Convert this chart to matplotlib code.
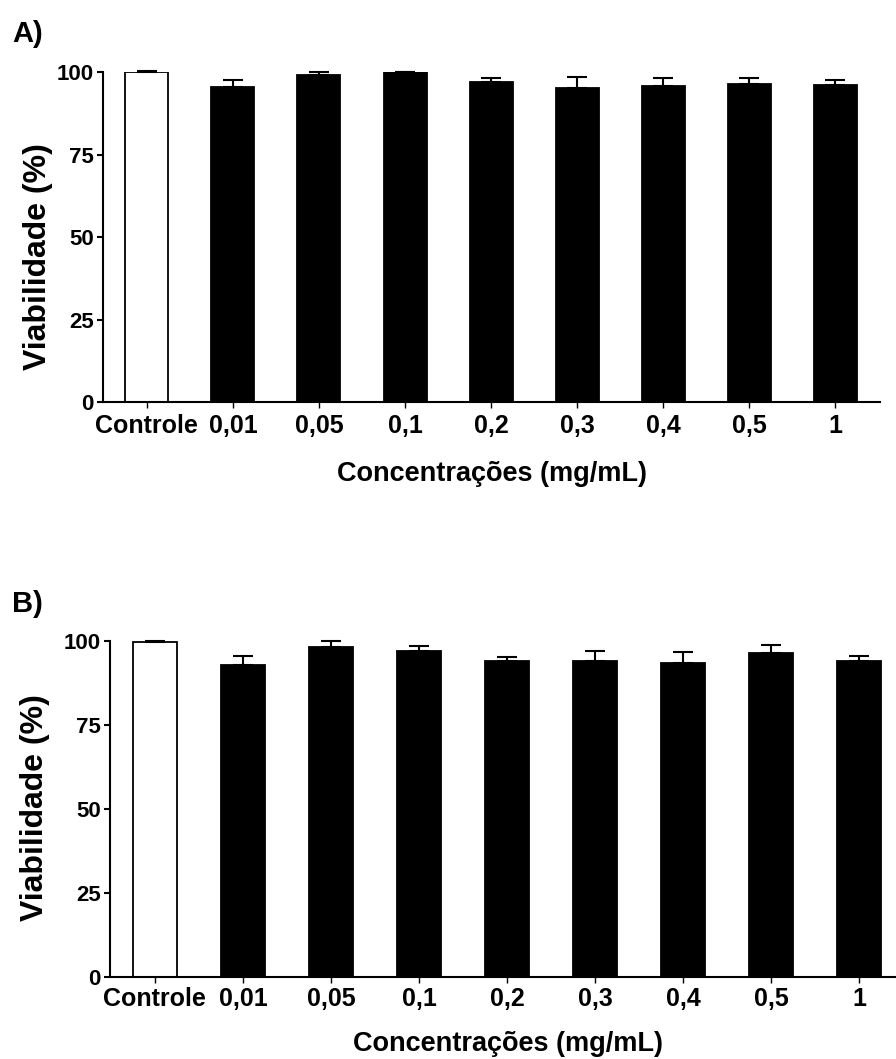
import numpy as np
import matplotlib
matplotlib.use("Agg")
import matplotlib.pyplot as plt

plt.rcParams["font.family"] = ["Liberation Sans", "DejaVu Sans"]
plt.rcParams["font.weight"] = "bold"

categories = ["Controle", "0,01", "0,05", "0,1", "0,2", "0,3", "0,4", "0,5", "1"]

# viability (%) and upper SD for each concentration
viab_a = [100.0, 95.6, 99.2, 100.0, 97.1, 95.3, 95.7, 96.3, 96.1]
err_a = [0.2, 2.1, 0.9, 0.0, 1.2, 3.3, 2.5, 2.0, 1.4]

viab_b = [99.7, 93.0, 98.2, 97.1, 94.1, 94.0, 93.4, 96.5, 94.0]
err_b = [0.2, 2.5, 1.7, 1.4, 1.1, 3.0, 3.2, 2.4, 1.6]

yticks = [0, 25, 50, 75, 100]

W, H = 896, 1059
fig = plt.figure(figsize=(W / 100, H / 100), dpi=100)


def panel(rect_px, values, errors, tick_pad, xlab_y, ylab_xy):
    left, right, top, bottom = rect_px
    ax = fig.add_axes([left / W, 1 - bottom / H, (right - left) / W, (bottom - top) / H])
    x = np.arange(len(categories))
    colors = ["white"] + ["black"] * (len(categories) - 1)
    ax.bar(x, values, width=0.5, color=colors, edgecolor="black", linewidth=1.3, zorder=2)
    lower = np.zeros(len(errors))
    ax.errorbar(x, values, yerr=[lower, errors], fmt="none", ecolor="black",
                elinewidth=1.5, capsize=7.5, capthick=1.5, clip_on=False, zorder=3)

    ax.set_xlim(-0.51, 8.52)
    ax.set_ylim(0, 100)
    ax.set_yticks(yticks)
    ax.set_xticks(x)
    ax.set_xticklabels(categories)
    for s in ["top", "right"]:
        ax.spines[s].set_visible(False)
    for s in ["left", "bottom"]:
        ax.spines[s].set_linewidth(1.5)
    ax.tick_params(axis="y", length=4.5, width=1.5, labelsize=16, pad=2)
    ax.tick_params(axis="x", length=4.5, width=1.0, labelsize=18, pad=tick_pad)
    for lab in ax.get_xticklabels() + ax.get_yticklabels():
        lab.set_fontweight("bold")

    ax.set_xlabel("Concentrações (mg/mL)", fontsize=19.5, fontweight="bold")
    ax.xaxis.set_label_coords(0.5, xlab_y)
    ax.set_ylabel("Viabilidade (%)", fontsize=23, fontweight="bold")
    ax.yaxis.set_label_coords(*ylab_xy)
    return ax


panel((103, 880, 72, 402), viab_a, err_a, 4, -0.18, (-0.064, 0.44))
panel((110, 905, 641, 977), viab_b, err_b, 3, -0.16, (-0.075, 0.503))

fig.text(12 / W, 1 - 42 / H, "A)", fontsize=21, fontweight="bold", va="baseline")
fig.text(12 / W, 1 - 612 / H, "B)", fontsize=21, fontweight="bold", va="baseline")

fig.savefig("out.png", dpi=100, facecolor="white")
